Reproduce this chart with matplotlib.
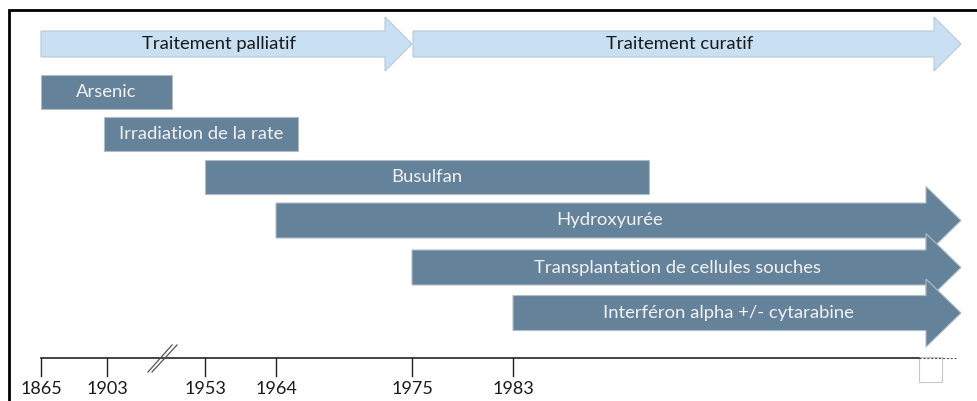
import numpy as np
import matplotlib.pyplot as plt
from matplotlib.patches import Polygon, Rectangle

plt.rcParams['font.family'] = ['Lato', 'DejaVu Sans']

# data
tick_years = [1865, 1903, 1953, 1964, 1975, 1983]
phases = ['Traitement palliatif', 'Traitement curatif']
phase_start = [1865, 1975]
phase_end = [1975, 2016]

treatments = ['Arsenic', 'Irradiation de la rate', 'Busulfan', 'Hydroxyurée',
              'Transplantation de cellules souches', 'Interféron alpha +/- cytarabine']
treat_start = [1865, 1901, 1953, 1964, 1975, 1983]
treat_end = [1936, 1965.8, 1993, 2016, 2016, 2016]
ongoing = [False, False, False, True, True, True]

# schematic (non linear) year -> pixel mapping
anchor_years = [1865, 1903, 1953, 1964, 1975, 1983, 2016]
anchor_px = [41, 107, 205, 276, 412, 513, 961]


def xpos(y):
    return float(np.interp(y, anchor_years, anchor_px))


light = '#c9dff2'
dark = '#65829b'

fig = plt.figure(figsize=(9.78, 4.01), dpi=100)
ax = fig.add_axes([0, 0, 1, 1])
ax.set_xlim(0, 978)
ax.set_ylim(401, 0)
ax.axis('off')


def arrow(x0, tip, yc, h, hh, hl, color, edge):
    xb = tip - hl
    pts = [(x0, yc - h / 2), (xb, yc - h / 2), (xb, yc - hh), (tip, yc),
           (xb, yc + hh), (xb, yc + h / 2), (x0, yc + h / 2)]
    ax.add_patch(Polygon(pts, closed=True, fc=color, ec=edge, lw=0.8))
    return xb


# frame
ax.plot([9, 9, 978], [401, 10, 10], color='black', lw=2, solid_joinstyle='miter')

# phase arrows
for lab, s, e in zip(phases, phase_start, phase_end):
    x0 = xpos(s) + (1 if s > 1865 else 0)
    tip = xpos(e)
    xb = arrow(x0, tip, 44, 26, 27, 27, light, '#b8c8d6')
    ax.text((x0 + xb + 13) / 2, 44, lab, ha='center', va='center',
            fontsize=13.3, color='#1a1a1a')

# treatment bars
row_y = [92, 134, 176.5, 220.5, 267.5, 313]
for lab, s, e, og, yc in zip(treatments, treat_start, treat_end, ongoing, row_y):
    x0 = xpos(s)
    x1 = xpos(e)
    if og:
        xb = arrow(x0, x1, yc, 35, 34, 35, dark, '#b0bcc6')
        xc = (x0 + xb + 17) / 2
    else:
        ax.add_patch(Rectangle((x0, yc - 17), x1 - x0, 34, fc=dark, ec='#b0bcc6', lw=0.8))
        xc = (x0 + x1) / 2
    ax.text(xc, yc, lab, ha='center', va='center', fontsize=13.3, color='#f2f2f2')

# timeline axis
ax.plot([xpos(1865), 919], [358, 358], color='#222222', lw=1.2)
ax.plot([919, 956], [358, 358], color='#555555', lw=0.8, ls=(0, (2, 1.5)))
ax.add_patch(Rectangle((919, 357), 23, 25, fc='white', ec='#c8c8c8', lw=0.8))
for yr in tick_years:
    x = xpos(yr)
    ax.plot([x, x], [358, 376], color='#222222', lw=1)
    ax.text(x, 389, str(yr), ha='center', va='center', fontsize=13, color='#1a1a1a')

# axis break marks
ax.plot([148, 172], [372, 345], color='#555555', lw=0.9)
ax.plot([152, 177], [372, 345], color='#555555', lw=0.9)

fig.savefig('out.png', dpi=100)
